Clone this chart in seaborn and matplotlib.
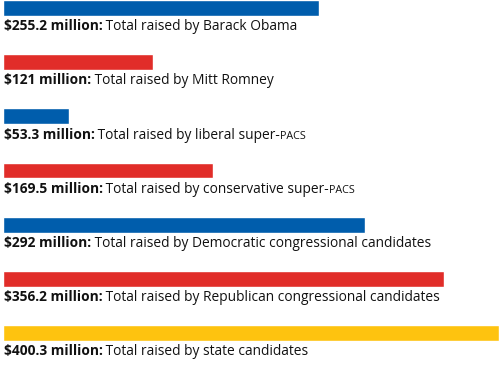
import matplotlib
matplotlib.use("Agg")
import matplotlib.pyplot as plt
import seaborn as sns
import pandas as pd

amounts = ["$255.2 million:", "$121 million:", "$53.3 million:", "$169.5 million:",
           "$292 million:", "$356.2 million:", "$400.3 million:"]
descriptions = ["Total raised by Barack Obama",
                "Total raised by Mitt Romney",
                "Total raised by liberal super-",
                "Total raised by conservative super-",
                "Total raised by Democratic congressional candidates",
                "Total raised by Republican congressional candidates",
                "Total raised by state candidates"]
suffixes = ["", "", "PACS", "PACS", "", "", ""]
values = [255.2, 121, 53.3, 169.5, 292, 356.2, 400.3]
groups = ["dem", "rep", "dem", "rep", "dem", "rep", "state"]

palette = {"dem": "#005DAC", "rep": "#E12D29", "state": "#FEC30F"}

df = pd.DataFrame({"pos": range(len(values)), "value": values, "group": groups})

sns.set_style("white")
plt.rcParams["font.family"] = ["Open Sans", "DejaVu Sans"]

fig = plt.figure(figsize=(4.99, 3.66), dpi=100)
ax = fig.add_axes([3 / 499, 0, 1 - 3 / 499, 1])

sns.barplot(data=df, x="value", y="pos", hue="group", palette=palette,
            orient="h", dodge=False, width=0.295, saturation=1,
            legend=False, ax=ax)

ax.set_xlim(0, 400.3)
ax.set_ylim(6.61, -0.148)
ax.axis("off")

fs = 9.9
trans = ax.get_yaxis_transform()
renderer = fig.canvas.get_renderer()


def right_edge(txt):
    # x of the text's right end, in axes fraction
    bb = txt.get_window_extent(renderer)
    return ax.transAxes.inverted().transform((bb.x1, 0))[0]


for i, (amt, desc, suf) in enumerate(zip(amounts, descriptions, suffixes)):
    y = i + 0.41
    t = ax.text(0.003, y, amt, transform=trans, fontsize=fs, fontweight="bold",
                va="baseline", ha="left", color="#111111")
    t2 = ax.text(right_edge(t) - 0.002, y, " " + desc, transform=trans,
                 fontsize=fs, va="baseline", ha="left", color="#111111")
    if suf:
        ax.text(right_edge(t2), y, suf, transform=trans, fontsize=fs * 0.78,
                va="baseline", ha="left", color="#111111")

fig.savefig("out.png", dpi=100)
